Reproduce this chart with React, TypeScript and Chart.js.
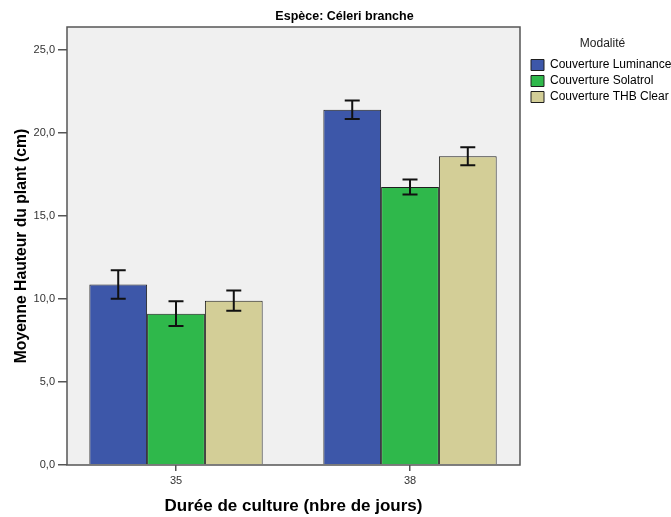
import React, { useEffect, useRef } from 'react';
import { Chart, registerables } from 'chart.js';

Chart.register(...registerables);

const chartTitle = 'Espèce: Céleri branche';
const legendTitle = 'Modalité';
const xAxisTitle = 'Durée de culture (nbre de jours)';
const yAxisTitle = 'Moyenne Hauteur du plant (cm)';

const categories = ['35', '38'];
const seriesNames = ['Couverture Luminance', 'Couverture Solatrol', 'Couverture THB Clear'];
const luminance = [10.88, 21.4];
const solatrol = [9.12, 16.75];
const thbClear = [9.9, 18.6];
const luminanceErr = [0.86, 0.56];
const solatrolErr = [0.75, 0.45];
const thbClearErr = [0.61, 0.54];
const yTicks = [0, 5, 10, 15, 20, 25];

const seriesValues = [luminance, solatrol, thbClear];
const seriesErrors = [luminanceErr, solatrolErr, thbClearErr];
const seriesColors = ['#3d57a9', '#2fb84b', '#d3ce97'];

const FONT = "Arial, 'Liberation Sans', sans-serif";

const bgPlugin = {
  id: 'plotBg',
  beforeDraw(chart: any) {
    const { ctx, chartArea: a } = chart;
    ctx.save();
    ctx.fillStyle = '#f0f0f0';
    ctx.fillRect(a.left, a.top, a.right - a.left, a.bottom - a.top);
    ctx.restore();
  },
  afterDatasetsDraw(chart: any) {
    const { ctx, chartArea: a, scales } = chart;
    ctx.save();
    // frame
    ctx.strokeStyle = '#555555';
    ctx.lineWidth = 1.5;
    ctx.strokeRect(a.left, a.top, a.right - a.left, a.bottom - a.top);
    // error bars
    const y = scales.y;
    ctx.strokeStyle = '#111111';
    ctx.lineWidth = 2;
    chart.data.datasets.forEach((ds: any, i: number) => {
      const meta = chart.getDatasetMeta(i);
      const errs = seriesErrors[i];
      meta.data.forEach((el: any, j: number) => {
        const v = seriesValues[i][j];
        const e = errs[j];
        const yt = y.getPixelForValue(v + e);
        const yb = y.getPixelForValue(v - e);
        const x = el.x;
        const cap = 7.5;
        ctx.beginPath();
        ctx.moveTo(x, yt);
        ctx.lineTo(x, yb);
        ctx.moveTo(x - cap, yt);
        ctx.lineTo(x + cap, yt);
        ctx.moveTo(x - cap, yb);
        ctx.lineTo(x + cap, yb);
        ctx.stroke();
      });
    });
    ctx.restore();
  },
};

const legendFix = {
  id: 'legendFix',
  beforeLayout(chart: any) {
    const lg = chart.legend;
    if (lg && !lg._patchedFit) {
      const orig = lg.fit.bind(lg);
      lg.fit = function () {
        orig();
        this.width = 151;
      };
      lg._patchedFit = true;
    }
  },
  afterLayout(chart: any) {
    const lg = chart.legend;
    if (lg) {
      lg.left += 7;
    }
    const tb = chart.titleBlock;
    if (tb) {
      tb.left += 9;
      tb.right += 9;
    }
  },
};

export default function App() {
  const ref = useRef<HTMLCanvasElement | null>(null);

  useEffect(() => {
    if (!ref.current) return;
    const chart = new Chart(ref.current, {
      type: 'bar',
      data: {
        datasets: seriesNames.map((name, i) => ({
          label: name,
          data: seriesValues[i].map((v, j) => ({ x: j, y: v })),
          backgroundColor: seriesColors[i],
          borderColor: '#1e1e1e',
          borderWidth: 1,
          categoryPercentage: 0.7407,
          barPercentage: 1,
        })),
      },
      options: {
        responsive: false,
        animation: false,
        devicePixelRatio: 1,
        layout: { padding: 0 },
        plugins: {
          title: {
            display: true,
            text: chartTitle,
            color: '#000000',
            font: { family: FONT, size: 12.5, weight: 'bold' },
            padding: { top: 9, bottom: 3 },
          },
          legend: {
            display: true,
            position: 'right',
            align: 'start',
            title: {
              display: true,
              text: legendTitle,
              color: '#222222',
              font: { family: FONT, size: 12 },
              padding: { top: 38, bottom: 2.6 },
            },
            labels: {
              boxWidth: 13,
              boxHeight: 11,
              padding: 4,
              color: '#000000',
              font: { family: FONT, size: 12 },
            },
          },
          tooltip: { enabled: false },
        },
        scales: {
          x: {
            type: 'linear',
            min: -0.4658,
            max: 1.47,
            offset: false,
            afterFit(scale: any) {
              scale.height = 52;
            },
            afterBuildTicks(scale: any) {
              scale.ticks = categories.map((_, i) => ({ value: i }));
            },
            ticks: {
              callback: (v: any) => categories[v] ?? '',
              color: '#333333',
              font: { family: FONT, size: 11 },
              padding: 3,
              maxRotation: 0,
              autoSkip: false,
            },
            grid: {
              display: true,
              offset: false,
              drawOnChartArea: false,
              drawTicks: true,
              tickLength: 6,
              color: '#555555',
              lineWidth: 1.5,
            },
            border: { display: false },
            title: {
              display: true,
              text: xAxisTitle,
              color: '#000000',
              font: { family: FONT, size: 17, weight: 'bold' },
              padding: { top: 0, bottom: 0 },
            },
          },
          y: {
            type: 'linear',
            min: 0,
            max: 26.39,
            afterFit(scale: any) {
              scale.width = 67;
            },
            afterBuildTicks(scale: any) {
              scale.ticks = yTicks.map((v) => ({ value: v }));
            },
            ticks: {
              callback: (v: any) => Number(v).toFixed(1).replace('.', ','),
              color: '#333333',
              font: { family: FONT, size: 11 },
              padding: 3,
              autoSkip: false,
            },
            grid: {
              display: true,
              offset: false,
              drawOnChartArea: false,
              drawTicks: true,
              tickLength: 9,
              color: '#555555',
              lineWidth: 1.5,
            },
            border: { display: false },
            title: {
              display: true,
              text: yAxisTitle,
              color: '#000000',
              font: { family: FONT, size: 15.7, weight: 'bold' },
              padding: { top: 12.6, bottom: 0 },
            },
          },
        },
      },
      plugins: [bgPlugin, legendFix],
    } as any);
    return () => chart.destroy();
  }, []);

  return (
    <div style={{ position: 'fixed', left: 0, top: 0, width: 671, height: 517, background: '#ffffff' }}>
      <canvas ref={ref} width={671} height={517} style={{ display: 'block' }} />
    </div>
  );
}
